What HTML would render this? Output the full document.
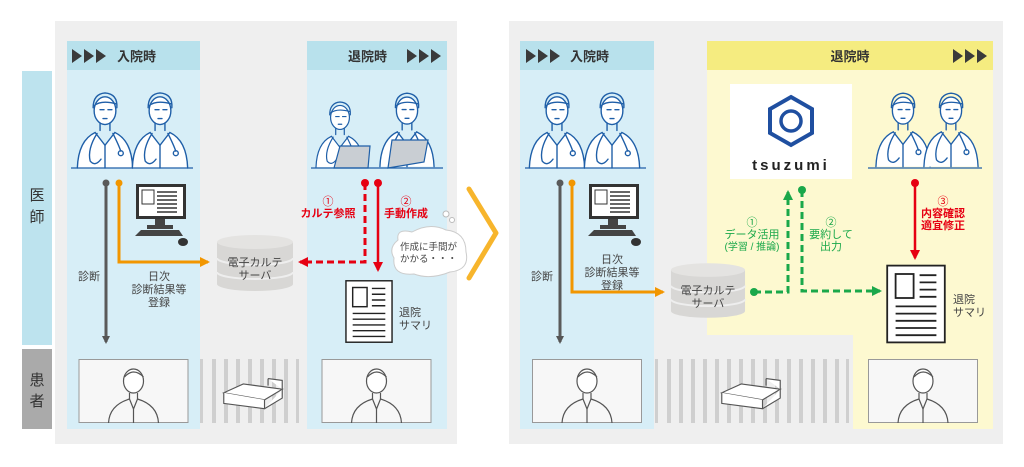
<!DOCTYPE html>
<html><head><meta charset="utf-8"><style>
html,body{margin:0;padding:0;background:#fff;width:1024px;height:467px;overflow:hidden}
svg{display:block}
text{font-family:"Liberation Sans","Noto Sans CJK JP",sans-serif}
</style></head><body>
<svg width="1024" height="467" viewBox="0 0 1024 467" xmlns="http://www.w3.org/2000/svg">
<defs>
<symbol id="doc" viewBox="0 0 60 84">
 <g fill="none" stroke="#1f5fa8" stroke-width="1.4" stroke-linecap="round">
  <path d="M18 22 Q18 8 30 7 Q43 8 42 22"/>
  <ellipse cx="30" cy="25" rx="11" ry="14" fill="#fff"/>
  <path d="M19 20 Q26 14 41 18"/>
  <path d="M25 24 h4 M33 24 h4 M28 33 h4"/>
  <path d="M25 38 L25 45 M35 38 L35 45"/>
  <path d="M2 83 Q3 55 20 47 L30 60 L40 47 Q57 55 58 83" fill="#fff"/>
  <path d="M22 48 Q12 64 15 76 Q20 82 26 74 M38 48 Q44 60 46 66"/>
  <circle cx="46" cy="68" r="2.5"/>
  <path d="M30 60 L30 83"/>
 </g>
</symbol>
<symbol id="pat" viewBox="0 0 110 64">
 <rect x="0.5" y="0.5" width="109" height="63" fill="#f7f7f7" stroke="#999"/>
 <g fill="none" stroke="#555" stroke-width="1.2">
  <ellipse cx="55" cy="22" rx="10" ry="12" fill="#fff"/>
  <path d="M46 18 Q55 8 65 18"/>
  <path d="M51 34 L51 40 M59 34 L59 40"/>
  <path d="M30 64 Q31 46 51 40 L55 50 L59 40 Q79 46 80 64"/>
  <path d="M55 50 L55 64"/>
 </g>
</symbol>
<symbol id="monitor" viewBox="0 0 55 62">
 <rect x="3" y="0" width="50" height="35" fill="#333"/>
 <rect x="6" y="3" width="44" height="29" fill="#fff"/>
 <rect x="9" y="6" width="12" height="14" fill="none" stroke="#333"/>
 <g stroke="#333" stroke-width="1.5"><path d="M24 8h20M24 12h20M24 16h20M24 20h20M24 24h20M24 28h20"/></g>
 <rect x="22" y="35" width="10" height="6" fill="#444"/>
 <rect x="14" y="41" width="26" height="4" fill="#444"/>
 <path d="M2 52 L8 46 L46 46 L50 52 Z" fill="#444"/>
 <ellipse cx="50" cy="58" rx="5" ry="4" fill="#333"/>
</symbol>
<symbol id="server" viewBox="0 0 78 58">
 <path d="M1 8 V50 A38 7 0 0 0 77 50 V8 Z" fill="#d8d7d5"/>
 <ellipse cx="39" cy="8" rx="38" ry="7" fill="#e4e3e1"/>
 <path d="M1 24 A38 7 0 0 0 77 24 M1 38 A38 7 0 0 0 77 38" fill="none" stroke="#eee" stroke-width="2"/>
</symbol>
<symbol id="sum" viewBox="0 0 50 66">
 <rect x="1" y="1" width="48" height="64" fill="#fff" stroke="#222" stroke-width="1.5"/>
 <rect x="8" y="8" width="15" height="20" fill="none" stroke="#222" stroke-width="1.5"/>
 <g stroke="#222" stroke-width="1.5"><path d="M28 9h14M28 15h14M28 21h14M28 27h14M8 35h34M8 41h34M8 47h34M8 53h34M8 59h34"/></g>
</symbol>
<symbol id="bed" viewBox="0 0 70 40">
 <g fill="#fff" stroke="#555" stroke-width="1.3"><path d="M2 22 L48 30 L68 18 L24 12 Z"/><path d="M2 22 V34 L48 40 V30 M48 40 L68 28 V18"/><path d="M52 6 L68 8 V18 M52 6 V14"/></g>
</symbol>
<symbol id="tri" viewBox="0 0 36 14">
 <path d="M0 0 L10 7 L0 14Z M12 0 L22 7 L12 14Z M24 0 L34 7 L24 14Z" fill="#3a3a3a"/>
</symbol>
<marker id="aG" markerWidth="8" markerHeight="8" refX="6" refY="4" orient="auto" markerUnits="userSpaceOnUse"><path d="M0 0L8 4L0 8Z" fill="#555"/></marker>
<marker id="aO" markerWidth="10" markerHeight="10" refX="8" refY="5" orient="auto" markerUnits="userSpaceOnUse"><path d="M0 0L10 5L0 10Z" fill="#f29600"/></marker>
<marker id="aR" markerWidth="10" markerHeight="10" refX="8" refY="5" orient="auto" markerUnits="userSpaceOnUse"><path d="M0 0L10 5L0 10Z" fill="#e60012"/></marker>
<marker id="aN" markerWidth="10" markerHeight="10" refX="8" refY="5" orient="auto" markerUnits="userSpaceOnUse"><path d="M0 0L10 5L0 10Z" fill="#1aa84a"/></marker>
</defs>

<!-- LEFT -->
<rect x="55" y="21" width="402" height="423" fill="#efefef"/>
<rect x="22" y="71" width="30" height="274" fill="#bde3ee"/>
<rect x="22" y="349" width="30" height="80" fill="#aaaaaa"/>
<text x="37" y="200" font-size="15" text-anchor="middle" fill="#333">医</text>
<text x="37" y="222" font-size="15" text-anchor="middle" fill="#333">師</text>
<text x="37" y="385" font-size="15" text-anchor="middle" fill="#333">患</text>
<text x="37" y="406" font-size="15" text-anchor="middle" fill="#333">者</text>

<rect x="67" y="41" width="133" height="388" fill="#d7eef7"/>
<rect x="67" y="41" width="133" height="29" fill="#b8e1ec"/>
<use href="#tri" x="72" y="49" width="36" height="14"/>
<text x="117" y="61" font-size="13" font-weight="bold" fill="#333">入院時</text>
<rect x="307" y="41" width="140" height="388" fill="#d7eef7"/>
<rect x="307" y="41" width="140" height="29" fill="#b8e1ec"/>
<text x="348" y="61" font-size="13" font-weight="bold" fill="#333">退院時</text>
<use href="#tri" x="407" y="49" width="36" height="14"/>

<use href="#doc" x="75" y="86" width="60" height="83"/>
<use href="#doc" x="130" y="86" width="60" height="83"/>
<line x1="71" y1="168" x2="193" y2="168" stroke="#1f5fa8" stroke-width="1.2"/>
<use href="#doc" x="314" y="96" width="52" height="72"/>
<use href="#doc" x="378" y="86" width="58" height="82"/>
<path d="M334 168 L340 146 L370 146 L368 168Z M388 168 L392 140 L428 140 L424 162Z" fill="#c9ced3" stroke="#1f5fa8" stroke-width="1.2"/>
<line x1="311" y1="168" x2="443" y2="168" stroke="#1f5fa8" stroke-width="1.2"/>

<use href="#monitor" x="133" y="184" width="55" height="62"/>
<line x1="106" y1="183" x2="106" y2="342" stroke="#5a5a5a" stroke-width="3" marker-end="url(#aG)"/>
<circle cx="106" cy="183" r="3.5" fill="#5a5a5a"/>
<path d="M119 183 V262 H208" fill="none" stroke="#f29600" stroke-width="3" marker-end="url(#aO)"/>
<circle cx="119" cy="183" r="3.5" fill="#f29600"/>
<text x="89" y="280" font-size="11" text-anchor="middle" fill="#444">診断</text>
<text x="159" y="280" font-size="11" text-anchor="middle" fill="#444">日次</text>
<text x="159" y="293" font-size="11" text-anchor="middle" fill="#444">診断結果等</text>
<text x="159" y="306" font-size="11" text-anchor="middle" fill="#444">登録</text>

<use href="#server" x="216" y="234" width="78" height="58"/>
<text x="255" y="266" font-size="11" text-anchor="middle" fill="#444">電子カルテ</text>
<text x="255" y="279" font-size="11" text-anchor="middle" fill="#444">サーバ</text>

<path d="M365 183 V262 H300" fill="none" stroke="#e60012" stroke-width="3" stroke-dasharray="7 4" marker-end="url(#aR)"/>
<circle cx="365" cy="183" r="4" fill="#e60012"/>
<line x1="378" y1="183" x2="378" y2="270" stroke="#e60012" stroke-width="2.5" marker-end="url(#aR)"/>
<circle cx="378" cy="183" r="4" fill="#e60012"/>
<text x="328" y="205" font-size="11" text-anchor="middle" fill="#e60012">①</text>
<text x="328" y="217" font-size="11" font-weight="bold" text-anchor="middle" fill="#e60012">カルテ参照</text>
<text x="406" y="205" font-size="11" text-anchor="middle" fill="#e60012">②</text>
<text x="406" y="217" font-size="11" font-weight="bold" text-anchor="middle" fill="#e60012">手動作成</text>

<path d="M398 240 Q396 228 412 232 Q430 222 446 230 Q466 232 466 252 Q470 270 450 272 Q430 280 414 274 Q392 276 394 258 Q388 248 398 240Z" fill="#fff" stroke="#ccc"/>
<circle cx="446" cy="214" r="3" fill="#fff" stroke="#bbb"/><circle cx="452" cy="220" r="2.5" fill="#fff" stroke="#bbb"/>
<text x="400" y="250" font-size="9.5" fill="#444">作成に手間が</text>
<text x="400" y="262" font-size="9.5" fill="#444">かかる・・・</text>

<use href="#sum" x="345" y="279" width="48" height="65"/>
<text x="399" y="316" font-size="11" fill="#444">退院</text>
<text x="399" y="329" font-size="11" fill="#444">サマリ</text>

<g fill="#cfcfcf"><rect x="200" y="359" width="3" height="64"/><rect x="212" y="359" width="4" height="64"/><rect x="224" y="359" width="4" height="64"/><rect x="236" y="359" width="4" height="64"/><rect x="248" y="359" width="4" height="64"/><rect x="260" y="359" width="4" height="64"/><rect x="272" y="359" width="4" height="64"/><rect x="284" y="359" width="4" height="64"/><rect x="296" y="359" width="3" height="64"/></g>
<use href="#bed" x="222" y="372" width="62" height="38"/>
<use href="#pat" x="78" y="359" width="111" height="64"/>
<use href="#pat" x="321" y="359" width="111" height="64"/>

<path d="M469 189 L496 233 L469 278" fill="none" stroke="#f7b52c" stroke-width="5" stroke-linecap="round" stroke-linejoin="round"/>

<!-- RIGHT -->
<rect x="509" y="21" width="494" height="423" fill="#efefef"/>
<rect x="520" y="41" width="134" height="388" fill="#d7eef7"/>
<rect x="520" y="41" width="134" height="29" fill="#b8e1ec"/>
<use href="#tri" x="526" y="49" width="36" height="14"/>
<text x="570" y="61" font-size="13" font-weight="bold" fill="#333">入院時</text>
<path d="M707 41 H993 V429 H853 V335 H707Z" fill="#fdf9d0"/>
<rect x="707" y="41" width="286" height="29" fill="#f5ec80"/>
<text x="850" y="61" font-size="13" font-weight="bold" text-anchor="middle" fill="#333">退院時</text>
<use href="#tri" x="953" y="49" width="36" height="14"/>

<use href="#doc" x="527" y="86" width="60" height="83"/>
<use href="#doc" x="582" y="86" width="60" height="83"/>
<line x1="525" y1="168" x2="646" y2="168" stroke="#1f5fa8" stroke-width="1.2"/>
<use href="#doc" x="874" y="86" width="58" height="82"/>
<use href="#doc" x="922" y="86" width="58" height="82"/>
<line x1="868" y1="168" x2="982" y2="168" stroke="#1f5fa8" stroke-width="1.2"/>

<rect x="730" y="84" width="122" height="95" fill="#fff"/>
<polygon points="791,97 812,109 812,133 791,145 770,133 770,109" fill="none" stroke="#1f4fa0" stroke-width="4"/>
<circle cx="791" cy="121" r="10" fill="none" stroke="#1f4fa0" stroke-width="3.5"/>
<text x="791" y="170" font-size="15" font-weight="bold" text-anchor="middle" fill="#222" letter-spacing="3">tsuzumi</text>

<use href="#monitor" x="586" y="184" width="55" height="62"/>
<line x1="560" y1="183" x2="560" y2="342" stroke="#5a5a5a" stroke-width="3" marker-end="url(#aG)"/>
<circle cx="560" cy="183" r="3.5" fill="#5a5a5a"/>
<path d="M572 183 V292 H663" fill="none" stroke="#f29600" stroke-width="3" marker-end="url(#aO)"/>
<circle cx="572" cy="183" r="3.5" fill="#f29600"/>
<text x="542" y="280" font-size="11" text-anchor="middle" fill="#444">診断</text>
<text x="612" y="263" font-size="11" text-anchor="middle" fill="#444">日次</text>
<text x="612" y="276" font-size="11" text-anchor="middle" fill="#444">診断結果等</text>
<text x="612" y="289" font-size="11" text-anchor="middle" fill="#444">登録</text>

<use href="#server" x="670" y="262" width="76" height="57"/>
<text x="708" y="294" font-size="11" text-anchor="middle" fill="#444">電子カルテ</text>
<text x="708" y="307" font-size="11" text-anchor="middle" fill="#444">サーバ</text>

<path d="M754 292 H788 V192" fill="none" stroke="#1aa84a" stroke-width="3" stroke-dasharray="7 4" marker-end="url(#aN)"/>
<circle cx="754" cy="292" r="4" fill="#1aa84a"/>
<path d="M802 190 V291 H880" fill="none" stroke="#1aa84a" stroke-width="3" stroke-dasharray="7 4" marker-end="url(#aN)"/>
<circle cx="802" cy="190" r="4" fill="#1aa84a"/>
<text x="752" y="226" font-size="11" text-anchor="middle" fill="#1aa84a">①</text>
<text x="752" y="238" font-size="11" text-anchor="middle" fill="#1aa84a">データ活用</text>
<text x="752" y="250" font-size="10" text-anchor="middle" fill="#1aa84a">(学習 / 推論)</text>
<text x="831" y="226" font-size="11" text-anchor="middle" fill="#1aa84a">②</text>
<text x="831" y="238" font-size="11" text-anchor="middle" fill="#1aa84a">要約して</text>
<text x="831" y="250" font-size="11" text-anchor="middle" fill="#1aa84a">出力</text>

<line x1="915" y1="183" x2="915" y2="258" stroke="#e60012" stroke-width="2.5" marker-end="url(#aR)"/>
<circle cx="915" cy="183" r="4" fill="#e60012"/>
<text x="943" y="205" font-size="11" text-anchor="middle" fill="#e60012">③</text>
<text x="943" y="217" font-size="11" font-weight="bold" text-anchor="middle" fill="#e60012">内容確認</text>
<text x="943" y="229" font-size="11" font-weight="bold" text-anchor="middle" fill="#e60012">適宜修正</text>

<use href="#sum" x="886" y="264" width="60" height="80"/>
<text x="953" y="303" font-size="11" fill="#444">退院</text>
<text x="953" y="316" font-size="11" fill="#444">サマリ</text>

<g fill="#cfcfcf"><rect x="655" y="359" width="3" height="64"/><rect x="667" y="359" width="4" height="64"/><rect x="679" y="359" width="4" height="64"/><rect x="691" y="359" width="4" height="64"/><rect x="703" y="359" width="4" height="64"/><rect x="715" y="359" width="4" height="64"/><rect x="727" y="359" width="4" height="64"/><rect x="739" y="359" width="4" height="64"/><rect x="751" y="359" width="4" height="64"/><rect x="763" y="359" width="4" height="64"/><rect x="775" y="359" width="4" height="64"/><rect x="787" y="359" width="4" height="64"/><rect x="799" y="359" width="4" height="64"/><rect x="811" y="359" width="4" height="64"/><rect x="823" y="359" width="4" height="64"/><rect x="835" y="359" width="4" height="64"/><rect x="846" y="359" width="3" height="64"/></g>
<use href="#bed" x="720" y="372" width="62" height="38"/>
<use href="#pat" x="532" y="359" width="110" height="64"/>
<use href="#pat" x="868" y="359" width="110" height="64"/>
</svg>
</body></html>
